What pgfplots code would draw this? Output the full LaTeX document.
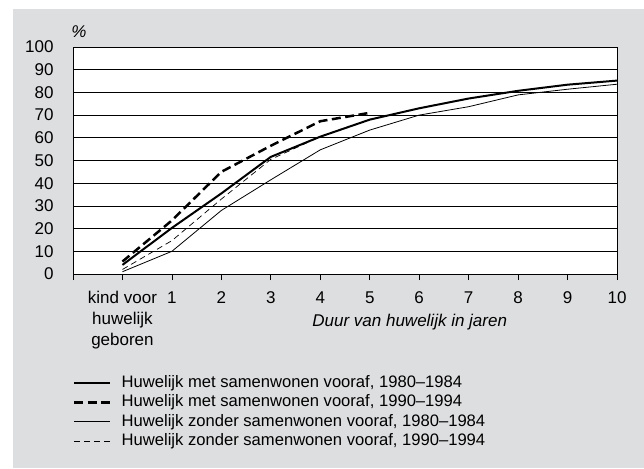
\documentclass[border=0pt]{standalone}
\usepackage{pgfplots}
\pgfplotsset{compat=1.18}
\usepackage{fontspec}
\setmainfont{Liberation Sans}
\definecolor{bggray}{RGB}{221,222,224}
\newcommand{\chartfont}{\fontsize{17bp}{21bp}\selectfont}
\newcommand{\legendfont}{\fontsize{16.6bp}{20bp}\selectfont}

% data: x = 0 kind voor huwelijk geboren, 1..10 jaren
\begin{document}
\begin{tikzpicture}
\path[use as bounding box] (-73bp,-195bp) rectangle (571bp,274bp);
\fill[bggray] (-60bp,-194bp) rectangle (571bp,264.5bp);
\begin{axis}[
    at={(0,0)}, anchor=south west,
    scale only axis,
    width=544bp, height=227bp,
    xmin=-1, xmax=10,
    ymin=0, ymax=100,
    xtick={-1,0,1,2,3,4,5,6,7,8,9,10},
    xticklabels={,{kind voor\\huwelijk\\geboren},1,2,3,4,5,6,7,8,9,10},
    ytick={0,10,...,100},
    xtick pos=left,
    tick align=outside,
    major tick length=6bp,
    ytick style={draw=none},
    xtick style={black, line width=0.8bp},
    ymajorgrids,
    major grid style={black, line width=0.8bp},
    axis line style={black, line width=0.9bp},
    axis background/.style={fill=white},
    /pgf/number format/assume math mode=true,
    tick label style={font=\chartfont},
    xticklabel style={align=center, yshift=-8bp},
    yticklabel style={xshift=-10bp},
    xlabel={\textit{Duur van huwelijk in jaren}},
    xlabel style={font=\chartfont, at={(axis description cs:0.619,-0.212)}, anchor=center},
    ylabel={\textit{\%}},
    ylabel style={font=\chartfont, rotate=-90, at={(axis description cs:0.011,1.066)}, anchor=center},
    legend cell align=left,
    legend style={at={(axis description cs:0,-0.443)}, anchor=north west,
        draw=none, fill=none, inner sep=0pt, row sep=3.5bp,
        font=\legendfont,
        nodes={inner sep=0pt, text height=12.5bp, text depth=3.5bp},
        /tikz/every odd column/.append style={column sep=10bp}},
    legend image code/.code={\draw[#1] (0bp,0bp) -- (36bp,0bp);},
]
\addplot[black, line width=2bp] coordinates {
    (0,4) (1,20.3) (2,35.5) (3,51.6) (4,60.5) (5,68) (6,73) (7,77.3) (8,80.7) (9,83.4) (10,85.2)
};
\addlegendentry{Huwelijk met samenwonen vooraf, 1980–1984}
\addplot[black, line width=2.5bp, dash pattern=on 9bp off 4.5bp] coordinates {
    (0,5.5) (1,23.6) (2,45) (3,56.5) (4,67.3) (5,71)
};
\addlegendentry{Huwelijk met samenwonen vooraf, 1990–1994}
\addplot[black, line width=0.8bp] coordinates {
    (0,1) (1,10) (2,28) (3,41.5) (4,54.7) (5,63.4) (6,70) (7,73.7) (8,78.9) (9,81.4) (10,83.6)
};
\addlegendentry{Huwelijk zonder samenwonen vooraf, 1980–1984}
\addplot[black, line width=0.7bp, dash pattern=on 6bp off 4bp] coordinates {
    (0,2) (1,14.7) (2,33) (3,50.5) (4,60.5) (5,68)
};
\addlegendentry{Huwelijk zonder samenwonen vooraf, 1990–1994}
\end{axis}
\end{tikzpicture}
\end{document}
